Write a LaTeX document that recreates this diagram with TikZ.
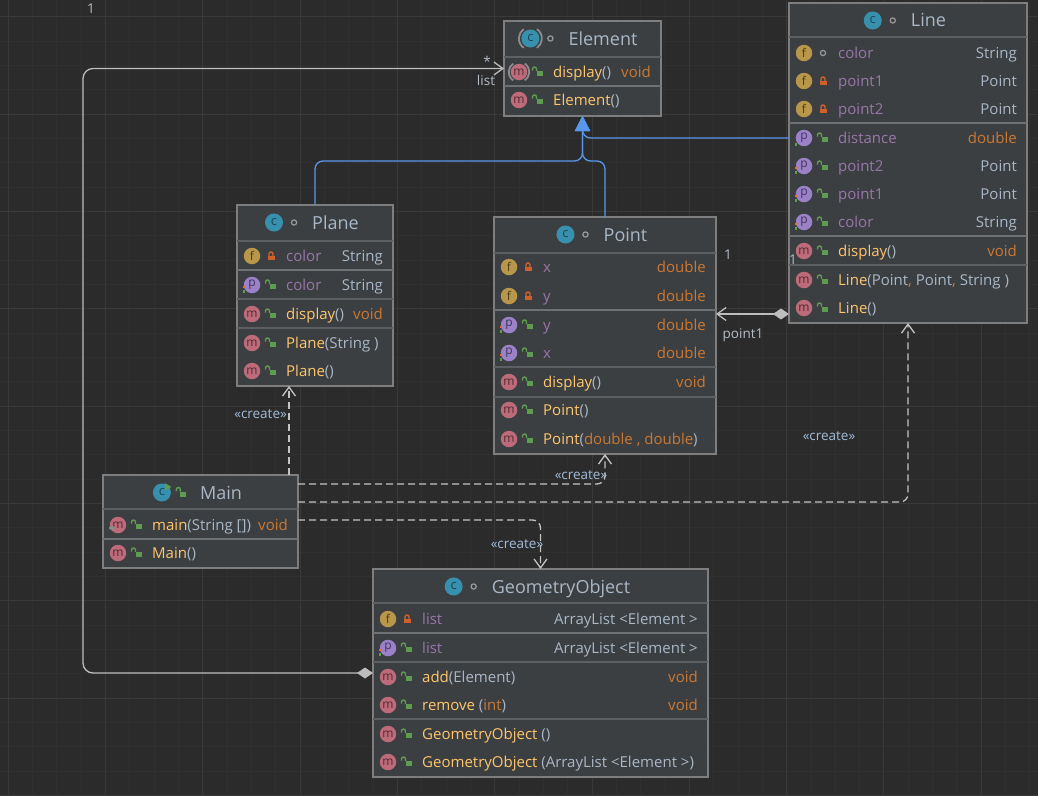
\documentclass[tikz,border=0pt]{standalone}
\usepackage{fontspec}
\setmainfont{Open Sans}
\usetikzlibrary{arrows.meta,positioning}

\definecolor{bgc}{HTML}{2B2B2B}
\definecolor{gridminor}{HTML}{303030}
\definecolor{gridmajor}{HTML}{393939}
\definecolor{boxfill}{HTML}{3C3F41}
\definecolor{boxborder}{HTML}{7E7E7E}
\definecolor{septhin}{HTML}{5D6062}
\definecolor{septhick}{HTML}{6E7173}
\definecolor{titlec}{HTML}{A9B7C6}
\definecolor{fieldc}{HTML}{9876AA}
\definecolor{methc}{HTML}{FFC66D}
\definecolor{typec}{HTML}{A9B7C6}
\definecolor{kwc}{HTML}{CC7832}
\definecolor{icof}{HTML}{B8964A}
\definecolor{icotxtf}{HTML}{4A3B1C}
\definecolor{icop}{HTML}{9B82C8}
\definecolor{icotxtp}{HTML}{3F3458}
\definecolor{icom}{HTML}{BD6B7A}
\definecolor{icotxtm}{HTML}{4F2A33}
\definecolor{icoc}{HTML}{3790AE}
\definecolor{icotxtc}{HTML}{1E4656}
\definecolor{privc}{HTML}{D0602B}
\definecolor{pubc}{HTML}{5E9D50}
\definecolor{setc}{HTML}{EF6A26}
\definecolor{pkgc}{HTML}{9A9A9A}
\definecolor{ringc}{HTML}{8C8C8C}
\definecolor{umlblue}{HTML}{5897EC}
\definecolor{linkc}{HTML}{BDBDBD}
\definecolor{dashc}{HTML}{C4C4C4}
\definecolor{labelc}{HTML}{B4BCC6}
\definecolor{stereoc}{HTML}{A2BCD8}

\tikzset{
  classbox/.style={draw=boxborder, fill=boxfill, line width=1.3pt, inner sep=0pt, outer sep=0pt, anchor=north west},
  thinsep/.style={draw=septhin, line width=1.2pt},
  thicksep/.style={draw=septhick, line width=2.4pt},
  membertext/.style={inner sep=0pt, text=typec, font=\fontsize{15}{17}\selectfont},
  titletext/.style={inner sep=0pt, text=titlec, font=\fontsize{18}{20}\selectfont},
  iconball/.style={circle, inner sep=0pt, minimum size=16.5pt, fill=ico#1, text=icotxt#1, font=\fontsize{12}{12}\selectfont},
  edgelabel/.style={inner sep=0pt, text=labelc, font=\fontsize{13.5}{15}\selectfont},
  stereo/.style={edgelabel, text=stereoc},
  inherit/.style={draw=umlblue, line width=1.3pt, rounded corners=8pt, -{Triangle[length=15pt,width=15pt]}},
  compo/.style={draw=linkc, line width=1.3pt, {Diamond[length=16pt,width=11pt,fill=linkc]}-{Straight Barb[length=9pt,width=13pt]}},
  depend/.style={draw=dashc, line width=1.3pt, dash pattern=on 7pt off 4pt, rounded corners=8pt, -{Straight Barb[length=9pt,width=13pt]}},
}

% text colours
\def\fn#1{\textcolor{fieldc}{#1}}
\def\mn#1{\textcolor{methc}{#1}}
\def\ty#1{\textcolor{typec}{#1}}
\def\kw#1{\textcolor{kwc}{#1}}

% visibility marks, #1 = (x,y)
\def\vispriv#1{\begin{scope}[shift={#1}]
  \fill[privc] (-3.5,-0.5) rectangle (3.5,4);
  \draw[privc, line width=1.4pt] (-2,0) -- (-2,-2) arc (180:360:2) -- (2,0);
\end{scope}}
\def\vispub#1{\begin{scope}[shift={#1}]
  \fill[pubc] (-1.5,-1) rectangle (4.5,4);
  \draw[pubc, line width=1.4pt] (-1.5,-1) -- (-1.5,-3) arc (360:180:2) -- (-5.5,-1.5);
\end{scope}}
\def\vispkg#1{\draw[pkgc, line width=1.2pt] #1 circle (2.6);}
\def\absring#1#2{\begin{scope}[shift={#1}]
  \draw[ringc, line width=1.8pt] (125:#2) arc (125:235:#2);
  \draw[ringc, line width=1.8pt] (-55:#2) arc (-55:55:#2);
\end{scope}}
\def\setget#1{\begin{scope}[shift={#1}]
  \fill[setc] (-9.5,0.5) rectangle (-7,3);
  \fill[pubc] (-9.5,5) rectangle (-7,7.5);
\end{scope}}
\def\getonly#1{\begin{scope}[shift={#1}]
  \fill[pubc] (-9.5,5) rectangle (-7,7.5);
\end{scope}}

% one row of a class box, between \bl and \br
\def\member#1#2#3#4#5#6{%
  \node[iconball=#3] (#1-ico) at (\bl+15,#2) {#3};
  \csname vis#4\endcsname{(\bl+34,#2)}
  \node[membertext, anchor=base west] (#1) at (\bl+49,#2+5.2) {#5};
  \node[membertext, anchor=base east] (#1-type) at (\br-10,#2+5.2) {#6};
}
% header of a class box
\def\classtitle#1#2#3{%
  \node[titletext, anchor=base] (#1-title) at ([xshift=20.5pt,yshift=-24pt]#1.north) {#2};
  \node[iconball=c, minimum size=18pt, font=\fontsize{13}{13}\selectfont] (#1-ico) at ([xshift=-38pt,yshift=6.5pt]#1-title.base west) {c};
  \coordinate (#1-vis) at ([xshift=-18pt,yshift=6.5pt]#1-title.base west);
  \csname vis#3\endcsname{(#1-vis)}
}

\begin{document}
\begin{tikzpicture}[x=1pt,y=-1pt]
			%%%%% START %%%%%
			\useasboundingbox (0,0) rectangle (1038,795);
			\fill[bgc] (0,0) rectangle (1038,795);
			\foreach \k in {0,...,42} \draw[draw=gridminor, line width=1pt] ({8.1+24.33*\k},0) -- ++(0,795);
			\foreach \k in {0,...,32} \draw[draw=gridminor, line width=1pt] (0,{16.8+24.33*\k}) -- ++(1038,0);
			\foreach \k in {0,4,...,40} \draw[draw=gridmajor, line width=1pt] ({8.1+24.33*\k},0) -- ++(0,795);
			\foreach \k in {0,4,...,32} \draw[draw=gridmajor, line width=1pt] (0,{16.8+24.33*\k}) -- ++(1038,0);
			
			%%%%% Element %%%%%
			\node[classbox, minimum width=157pt, minimum height=95pt] (element) at (504,21) {};
			\def\bl{504}\def\br{661}
			\draw[thinsep] (\bl,57) -- (\br,57);
			\draw[thicksep] (\bl,86) -- (\br,86);
			\classtitle{element}{Element}{pkg}
			\absring{(element-ico)}{11.5}
			\member{el-display}{72}{m}{pub}{\mn{display}\ty{()}}{\kw{void}}
			\absring{(el-display-ico)}{10.2}
			\member{el-ctor}{100}{m}{pub}{\mn{Element}\ty{()}}{}
			
			%%%%% Line %%%%%
			\node[classbox, minimum width=238pt, minimum height=320pt] (line) at (789,3) {};
			\def\bl{789}\def\br{1027}
			\draw[thinsep] (\bl,37) -- (\br,37);
			\draw[thicksep] (\bl,123) -- (\br,123);
			\draw[thicksep] (\bl,236) -- (\br,236);
			\draw[thinsep] (\bl,265) -- (\br,265);
			\classtitle{line}{Line}{pkg}
			\member{ln-color}{53}{f}{pkg}{\fn{color}}{\ty{String}}
			\member{ln-p1}{81}{f}{priv}{\fn{point1}}{\ty{Point}}
			\member{ln-p2}{109}{f}{priv}{\fn{point2}}{\ty{Point}}
			\member{ln-dist}{138}{p}{pub}{\fn{distance}}{\kw{double}}
			\getonly{(\bl+15,138)}
			\member{ln-gp2}{166}{p}{pub}{\fn{point2}}{\ty{Point}}
			\setget{(\bl+15,166)}
			\member{ln-gp1}{194}{p}{pub}{\fn{point1}}{\ty{Point}}
			\setget{(\bl+15,194)}
			\member{ln-gcolor}{222}{p}{pub}{\fn{color}}{\ty{String}}
			\setget{(\bl+15,222)}
			\member{ln-display}{251}{m}{pub}{\mn{display}\ty{()}}{\kw{void}}
			\member{ln-ctor3}{280}{m}{pub}{\mn{Line}\ty{(Point}\kw{,} \ty{Point}\kw{,} \ty{String )}}{}
			\member{ln-ctor0}{308}{m}{pub}{\mn{Line}\ty{()}}{}
			
			%%%%% Plane %%%%%
			\node[classbox, minimum width=156pt, minimum height=181pt] (plane) at (237,205) {};
			\def\bl{237}\def\br{393}
			\draw[thinsep] (\bl,241) -- (\br,241);
			\draw[thicksep] (\bl,270) -- (\br,270);
			\draw[thinsep] (\bl,299) -- (\br,299);
			\draw[thinsep] (\bl,328) -- (\br,328);
			\classtitle{plane}{Plane}{pkg}
			\member{pl-color}{256}{f}{priv}{\fn{color}}{\ty{String}}
			\member{pl-gcolor}{285}{p}{pub}{\fn{color}}{\ty{String}}
			\setget{(\bl+15,285)}
			\member{pl-display}{314}{m}{pub}{\mn{display}\ty{()}}{\kw{void}}
			\member{pl-ctor1}{343}{m}{pub}{\mn{Plane}\ty{(String )}}{}
			\member{pl-ctor0}{371}{m}{pub}{\mn{Plane}\ty{()}}{}
			
			%%%%% Point %%%%%
			\node[classbox, minimum width=222pt, minimum height=237pt] (point) at (494,217) {};
			\def\bl{494}\def\br{716}
			\draw[thinsep] (\bl,253) -- (\br,253);
			\draw[thicksep] (\bl,310) -- (\br,310);
			\draw[thinsep] (\bl,367) -- (\br,367);
			\draw[thinsep] (\bl,397) -- (\br,397);
			\classtitle{point}{Point}{pkg}
			\member{pt-x}{267}{f}{priv}{\fn{x}}{\kw{double}}
			\member{pt-y}{296}{f}{priv}{\fn{y}}{\kw{double}}
			\member{pt-gy}{325}{p}{pub}{\fn{y}}{\kw{double}}
			\setget{(\bl+15,325)}
			\member{pt-gx}{353}{p}{pub}{\fn{x}}{\kw{double}}
			\setget{(\bl+15,353)}
			\member{pt-display}{382}{m}{pub}{\mn{display}\ty{()}}{\kw{void}}
			\member{pt-ctor0}{410}{m}{pub}{\mn{Point}\ty{()}}{}
			\member{pt-ctor2}{439}{m}{pub}{\mn{Point}\ty{(}\kw{double , double}\ty{)}}{}
			
			%%%%% Main %%%%%
			\node[classbox, minimum width=195pt, minimum height=93pt] (main) at (103,475) {};
			\def\bl{103}\def\br{298}
			\draw[thinsep] (\bl,509) -- (\br,509);
			\draw[thicksep] (\bl,539) -- (\br,539);
			\classtitle{main}{Main}{pub}
			\begin{scope}[shift={(main-ico)}]
				\fill[pubc] (3.3,-9.3) -- (9.5,-5.6) -- (3.3,-2) -- cycle;
			\end{scope}
			\member{mn-main}{525}{m}{pub}{\mn{main}\ty{(String [])}}{\kw{void}}
			\fill[ringc] (\bl+9,528) ellipse (3 and 2);
			\member{mn-ctor}{553}{m}{pub}{\mn{Main}\ty{()}}{}
			
			%%%%% GeometryObject %%%%%
			\node[classbox, minimum width=335pt, minimum height=208pt] (geo) at (373,569) {};
			\def\bl{373}\def\br{708}
			\draw[thinsep] (\bl,603) -- (\br,603);
			\draw[thicksep] (\bl,633) -- (\br,633);
			\draw[thinsep] (\bl,662) -- (\br,662);
			\draw[thinsep] (\bl,719) -- (\br,719);
			\classtitle{geo}{GeometryObject}{pkg}
			\member{go-list}{619}{f}{priv}{\fn{list}}{\ty{ArrayList <Element >}}
			\member{go-glist}{648}{p}{pub}{\fn{list}}{\ty{ArrayList <Element >}}
			\setget{(\bl+15,648)}
			\member{go-add}{677}{m}{pub}{\mn{add}\ty{(Element)}}{\kw{void}}
			\member{go-remove}{705}{m}{pub}{\mn{remove }\ty{(}\kw{int}\ty{)}}{\kw{void}}
			\member{go-ctor0}{734}{m}{pub}{\mn{GeometryObject }\ty{ ()}}{}
			\member{go-ctor1}{762}{m}{pub}{\mn{GeometryObject }\ty{ (ArrayList <Element >)}}{}
			
			%%%%% connectors %%%%%
			\draw[inherit] (plane.north) |- ([yshift=-45pt]element.south) -- (element.south);
			\draw[inherit] (point.north) |- ([yshift=-45pt]element.south) -- (element.south);
			\draw[inherit] (line.west |- ln-dist-ico) -| (element.south);
			
			\draw[compo] ([yshift=9pt]line.south west) coordinate (cmp) -- (cmp -| point.east);
			\draw[compo, rounded corners=10pt] (geo.west) -- ++(-290,0) |- (element.west);
			
			\draw[depend] ([xshift=88.5pt]main.north) coordinate (dpl) -- (dpl |- plane.south);
			\draw[depend] ([yshift=-9pt]main.north east) -| (point.south);
			\draw[depend] ([yshift=-27pt]main.north east) -| (line.south);
			\draw[depend] ([yshift=-45pt]main.north east) -| (geo.north);
			
			%%%%% labels %%%%%
			\coordinate (crp) at (289,414);
			\node[stereo, left=2pt of crp] (cr-plane) {«create»};
			\node[stereo] (cr-point) at (581,475) {«create»};
			\node[stereo] (cr-line) at (829,436) {«create»};
			\node[stereo] (cr-geo) at (517,544) {«create»};
			\node[edgelabel] (go-star) at (487,61) {*};
			\node[edgelabel] (go-role) at (486,80) {list};
			\node[edgelabel] (go-one) at (91,9) {1};
			\node[edgelabel] (ln-one-a) at (728,255) {1};
			\node[edgelabel] (ln-one-b) at (793,260) {1};
			\node[edgelabel] (ln-role) at (743,335) {point1};
			%%%%% END %%%%%
\end{tikzpicture}
\end{document}
